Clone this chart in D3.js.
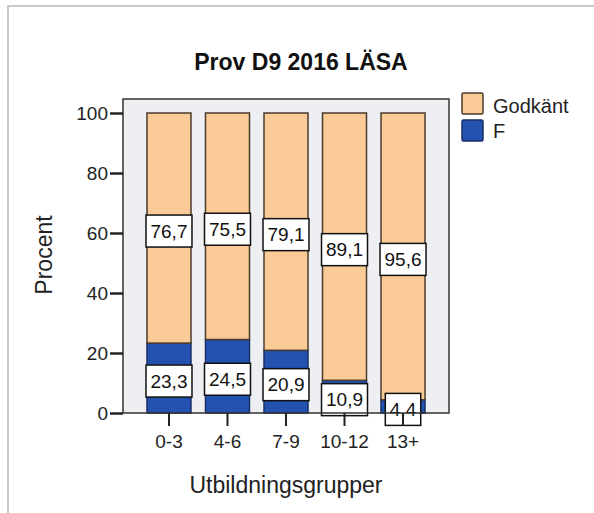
<!DOCTYPE html>
<html>
<head>
<meta charset="utf-8">
<script src="https://cdn.jsdelivr.net/npm/d3@7"></script>
<style>
  html, body { margin: 0; padding: 0; background: #fff; }
  svg { display: block; font-family: "Liberation Sans", Arial, sans-serif; }
</style>
</head>
<body>
<svg id="chart" width="594" height="513"></svg>
<script>
// Education groups and the share (%) of pupils per grade outcome
const categories = ["0-3", "4-6", "7-9", "10-12", "13+"];
const failValues = [23.3, 24.5, 20.9, 10.9, 4.4];      // F
const passValues = [76.7, 75.5, 79.1, 89.1, 95.6];     // Godkänt
const seriesNames = ["Godkänt", "F"];
const yTicks = [0, 20, 40, 60, 80, 100];
const titleText = "Prov D9 2016 LÄSA";
const xTitle = "Utbildningsgrupper";
const yTitle = "Procent";

const colors = { "F": "#2352B0", "Godkänt": "#FACB96" };
const strokes = { "F": "#1a2f66", "Godkänt": "#4a3a2c" };

const svg = d3.select("#chart");
const W = 594, H = 513;
const plot = { left: 123, right: 449, top: 99, bottom: 413 };

const sv = d3.formatLocale({ decimal: ",", thousands: " ", grouping: [3], currency: ["", " kr"] }).format(".1f");

// outer panel border
svg.append("path")
  .attr("d", `M8,${H} L8,6 L${W},6`)
  .attr("fill", "none").attr("stroke", "#c9c9c9").attr("stroke-width", 2);

const x = d3.scaleBand().domain(categories)
  .range([plot.left, plot.right]).paddingInner(0.248).paddingOuter(0.41);
const y = d3.scaleLinear().domain([0, 100]).range([plot.bottom, 113]);

// plot background
svg.append("rect")
  .attr("x", plot.left).attr("y", plot.top)
  .attr("width", plot.right - plot.left).attr("height", plot.bottom - plot.top)
  .attr("fill", "#EDEFF2");

const rows = categories.map((c, i) => ({ cat: c, "F": failValues[i], "Godkänt": passValues[i] }));
const stack = d3.stack().keys(["F", "Godkänt"]);
const layers = stack(rows);

const gBars = svg.append("g");
layers.forEach(layer => {
  gBars.append("g").selectAll("rect").data(layer).join("rect")
    .attr("x", d => x(d.data.cat))
    .attr("width", x.bandwidth())
    .attr("y", d => y(d[1]))
    .attr("height", d => y(d[0]) - y(d[1]))
    .attr("fill", colors[layer.key])
    .attr("stroke", strokes[layer.key])
    .attr("stroke-width", 1.5);
});

// value labels in white boxes
const gLab = svg.append("g").attr("font-size", 19).attr("fill", "#111");
layers.forEach(layer => {
  layer.forEach(d => {
    const val = d[1] - d[0];
    const cx = x(d.data.cat) + x.bandwidth() / 2;
    const cy = y((d[0] + d[1]) / 2) + 3;
    const t = gLab.append("text").attr("x", cx).attr("y", cy)
      .attr("text-anchor", "middle").attr("dy", "0.36em").text(sv(val));
    const w = t.node().getComputedTextLength() + 9;
    gLab.insert("rect", () => t.node())
      .attr("x", cx - w / 2).attr("y", cy - 16)
      .attr("width", w).attr("height", 32)
      .attr("fill", "#fff").attr("stroke", "#111").attr("stroke-width", 1.5);
  });
});

// frame
svg.append("rect")
  .attr("x", plot.left).attr("y", plot.top)
  .attr("width", plot.right - plot.left).attr("height", plot.bottom - plot.top)
  .attr("fill", "none").attr("stroke", "#333").attr("stroke-width", 1.5);

// axes
const yAxis = svg.append("g").attr("transform", `translate(${plot.left},0)`)
  .call(d3.axisLeft(y).tickValues(yTicks).tickSize(13).tickPadding(2).tickFormat(d3.format("d")));
yAxis.select(".domain").remove();
yAxis.selectAll(".tick line").attr("stroke", "#222").attr("stroke-width", 2.5);
yAxis.selectAll("text").attr("font-size", 19).attr("fill", "#222").attr("font-family", "Liberation Sans, Arial, sans-serif");

const xAxis = svg.append("g").attr("transform", `translate(0,${plot.bottom})`)
  .call(d3.axisBottom(x).tickSize(13).tickPadding(9));
xAxis.select(".domain").remove();
xAxis.selectAll(".tick line").attr("stroke", "#222").attr("stroke-width", 2);
xAxis.selectAll("text").attr("font-size", 19).attr("fill", "#222").attr("font-family", "Liberation Sans, Arial, sans-serif");

// titles
svg.append("text").attr("x", 301).attr("y", 70).attr("text-anchor", "middle")
  .attr("font-size", 23).attr("font-weight", "bold").attr("fill", "#111").text(titleText);
svg.append("text").attr("x", (plot.left + plot.right) / 2).attr("y", 493).attr("text-anchor", "middle")
  .attr("font-size", 23).attr("fill", "#222").text(xTitle);
svg.append("text").attr("transform", "translate(52,255) rotate(-90)").attr("text-anchor", "middle")
  .attr("font-size", 23).attr("fill", "#222").text(yTitle);

// legend
const leg = svg.append("g");
seriesNames.forEach((name, i) => {
  leg.append("rect").attr("x", 462).attr("y", 93 + i * 27).attr("width", 21).attr("height", 21)
    .attr("rx", 1.5).attr("fill", colors[name]).attr("stroke", strokes[name]).attr("stroke-width", 1.5);
  leg.append("text").attr("x", 493).attr("y", 113 + i * 25).attr("font-size", 20).attr("fill", "#222").text(name);
});
</script>
</body>
</html>
